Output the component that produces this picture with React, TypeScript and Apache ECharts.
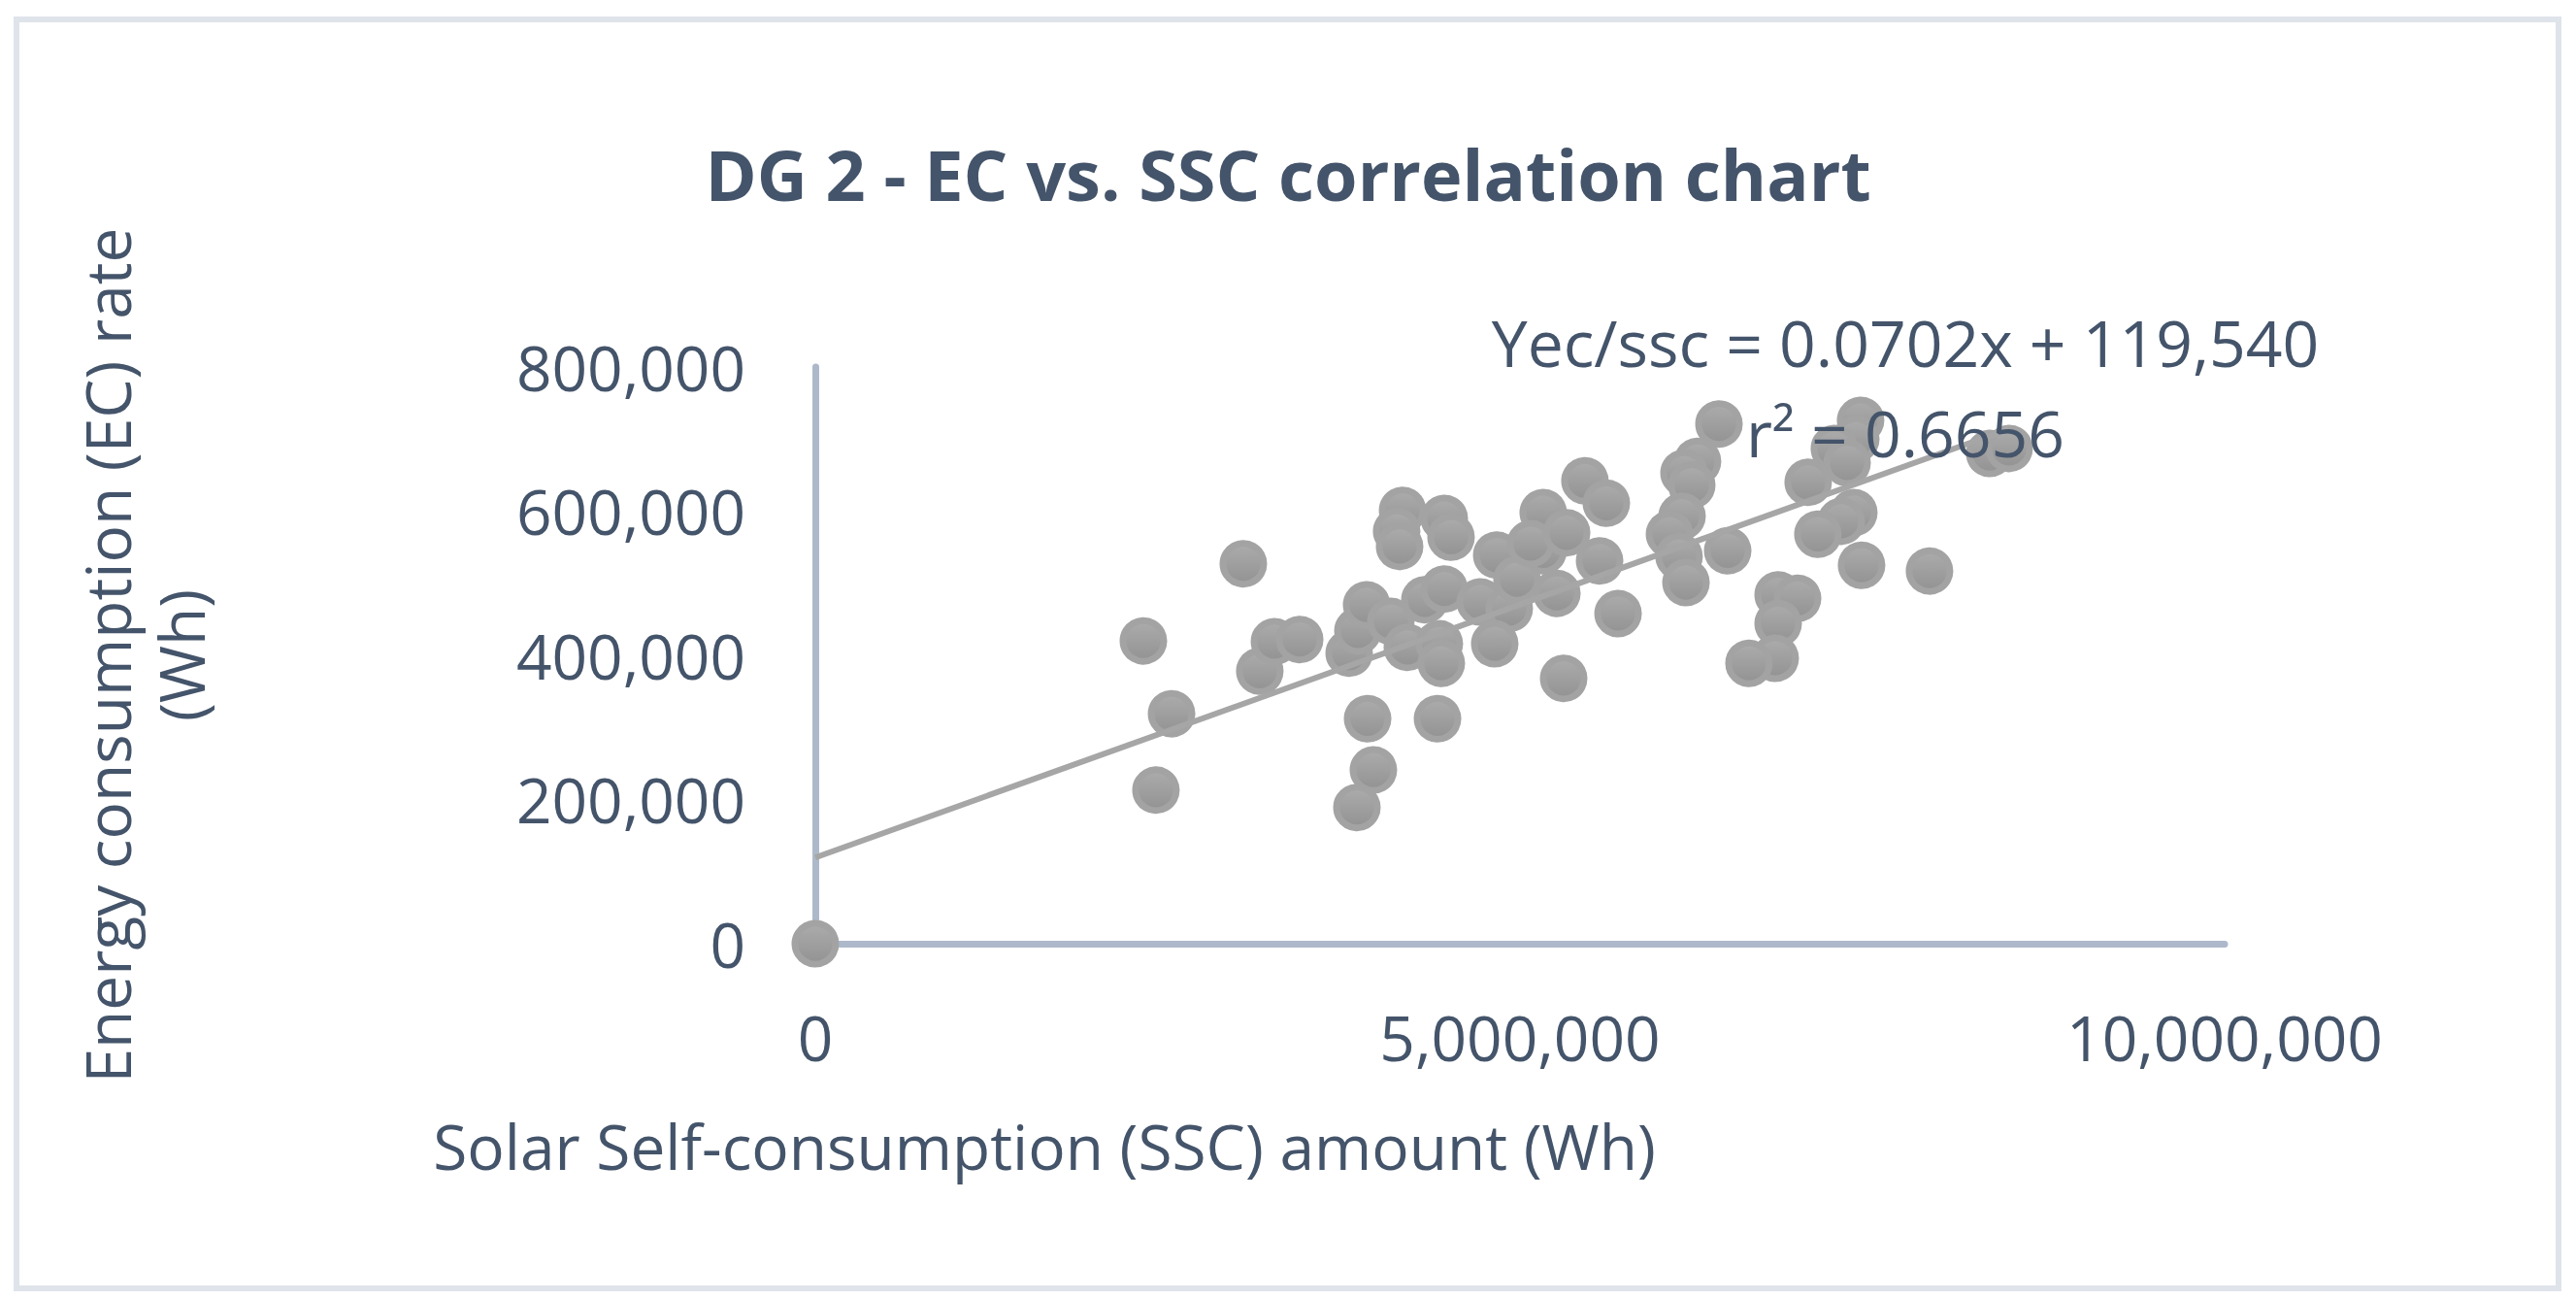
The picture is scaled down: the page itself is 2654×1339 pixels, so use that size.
import React, { useEffect, useRef } from "react";
import * as echarts from "echarts";

const chartTitle = "DG 2 - EC vs. SSC correlation chart";
const xAxisTitle = "Solar Self-consumption (SSC) amount (Wh)";
const yAxisTitle = "Energy consumption (EC) rate\n(Wh)";
const equationLine1 = "Yec/ssc = 0.0702x + 119,540";
const equationLine2 = "r² = 0.6656";
const trendSlope = 0.0702;
const trendIntercept = 119540;

const xTicks = [0, 5000000, 10000000];
const yTicks = [0, 200000, 400000, 600000, 800000];

// Solar self-consumption (Wh)
const sscValues = [
  0, 3037000, 2328000, 2528000, 2417000, 3154000, 3258000, 3437000, 3788000, 3850000,
  3912000, 4084000, 4201000, 4428000, 4442000, 3919000, 4415000, 3960000, 3843000, 4167000,
  4125000, 4146000, 4463000, 4511000, 4325000, 4463000, 4718000, 4835000, 4924000, 4821000,
  5165000, 5165000, 5262000, 5310000, 4979000, 5076000, 5461000, 5613000, 5565000, 5696000,
  6412000, 6260000, 6164000, 6219000, 6150000, 6061000, 6129000, 6178000, 6474000, 7417000,
  7383000, 7231000, 7321000, 7045000, 7369000, 7280000, 7114000, 7424000, 7906000, 6832000,
  6970000, 6832000, 6811000, 6625000, 8333000, 8471000, 5331000,
];

// Energy consumption (Wh)
const ecValues = [
  0, 527000, 420000, 319000, 213000, 378000, 419000, 422000, 403000, 434000,
  470000, 447000, 411000, 416000, 389000, 312000, 312000, 241000, 189000, 601000,
  572000, 551000, 590000, 564000, 477000, 492000, 474000, 539000, 465000, 416000,
  598000, 545000, 486000, 368000, 505000, 555000, 642000, 611000, 531000, 458000,
  721000, 669000, 653000, 636000, 593000, 568000, 537000, 501000, 545000, 726000,
  700000, 687000, 667000, 640000, 598000, 586000, 568000, 525000, 517000, 484000,
  479000, 444000, 396000, 389000, 680000, 687000, 570000,
];

const TEXT = "#44546a";
const FONT = "'Open Sans', 'Noto Sans', sans-serif";
const fmt = new Intl.NumberFormat("en-US");

export default function App() {
  const ref = useRef<HTMLDivElement>(null);
  useEffect(() => {
    if (!ref.current) return;
    const chart = echarts.init(ref.current, null, { renderer: "svg" });
    const points = sscValues.map((x, i) => [x, ecValues[i]]);
    const xMaxData = Math.max(...sscValues);
    const trend = [
      [0, trendIntercept],
      [xMaxData, trendSlope * xMaxData + trendIntercept],
    ];
    chart.setOption({
      animation: false,
      backgroundColor: "#ffffff",
      title: {
        text: chartTitle,
        left: "center",
        top: 130,
        textStyle: { fontFamily: FONT, fontWeight: "bold", fontSize: 72, color: TEXT },
      },
      grid: { left: 832, right: 354, top: 370, bottom: 359, containLabel: false },
      xAxis: {
        type: "value",
        min: xTicks[0],
        max: xTicks[xTicks.length - 1],
        interval: xTicks[1] - xTicks[0],
        splitLine: { show: false },
        axisTick: { show: false },
        axisLine: { show: true, lineStyle: { color: "#adb9ca", width: 7 } },
        axisLabel: {
          margin: 64,
          fontSize: 64,
          color: TEXT,
          fontFamily: FONT,
          formatter: (v: number) => fmt.format(v),
        },
      },
      yAxis: {
        type: "value",
        min: yTicks[0],
        max: yTicks[yTicks.length - 1],
        interval: yTicks[1] - yTicks[0],
        name: yAxisTitle,
        nameLocation: "middle",
        nameRotate: 90,
        nameGap: 616,
        nameTextStyle: { fontSize: 64, lineHeight: 76, color: TEXT, fontFamily: FONT },
        splitLine: { show: false },
        axisTick: { show: false },
        axisLine: { show: true, lineStyle: { color: "#adb9ca", width: 7 } },
        axisLabel: {
          margin: 72,
          fontSize: 64,
          color: TEXT,
          fontFamily: FONT,
          formatter: (v: number) => fmt.format(v),
        },
      },
      series: [
        {
          type: "scatter",
          data: points,
          symbol: "circle",
          symbolSize: 42,
          z: 2,
          itemStyle: {
            color: new echarts.graphic.LinearGradient(0, 0, 0, 1, [
              { offset: 0, color: "#acacac" },
              { offset: 1, color: "#929292" },
            ]),
            borderColor: "#a3a3a3",
            borderWidth: 7,
            opacity: 1,
          },
        },
        {
          type: "line",
          data: trend,
          symbol: "none",
          z: 3,
          lineStyle: { color: "#a6a6a6", width: 6 },
        },
      ],
      graphic: [
        {
          type: "rect",
          shape: { x: 9, y: 12, width: 2619, height: 1307 },
          style: { fill: "none", stroke: "#dfe3ea", lineWidth: 6 },
          z: -1,
        },
        {
          type: "text",
          x: 1068,
          y: 1172,
          style: {
            text: xAxisTitle,
            fontSize: 64,
            fontFamily: FONT,
            fill: TEXT,
            align: "center",
            verticalAlign: "middle",
          },
        },
        {
          type: "text",
          x: 1955,
          y: 344,
          z: 10,
          style: {
            text: equationLine1,
            fontSize: 66,
            fontFamily: FONT,
            fill: TEXT,
            align: "center",
            verticalAlign: "middle",
          },
        },
        {
          type: "text",
          x: 1955,
          y: 437,
          z: 10,
          style: {
            text: equationLine2,
            fontSize: 66,
            fontFamily: FONT,
            fill: TEXT,
            align: "center",
            verticalAlign: "middle",
          },
        },
      ],
    });
    return () => chart.dispose();
  }, []);
  return <div ref={ref} style={{ width: 2638, height: 1323 }} />;
}
